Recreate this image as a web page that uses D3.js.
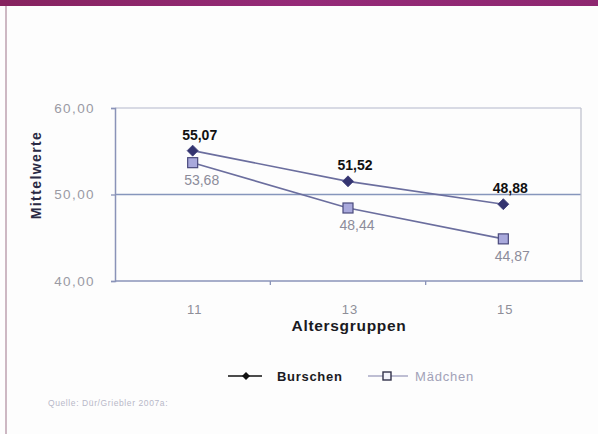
<!DOCTYPE html>
<html>
<head>
<meta charset="utf-8">
<script src="https://cdn.jsdelivr.net/npm/d3@7"></script>
<style>
  html, body { margin: 0; padding: 0; background: #fff; }
  svg { display: block; font-family: "Liberation Sans", Arial, sans-serif; }
</style>
</head>
<body>
<svg id="chart" width="598" height="434"></svg>
<script>
// Mean scores by age group, boys vs. girls
const ageGroups = ["11", "13", "15"];
const burschen = [55.07, 51.52, 48.88];
const maedchen = [53.68, 48.44, 44.87];
const yTicks = [40, 50, 60];
const seriesNames = ["Burschen", "Mädchen"];

const fmt = v => d3.format(".2f")(v).replace(".", ",");

const svg = d3.select("#chart");
const W = 598, H = 434;

// page frame: purple header strip and left rule
svg.append("rect").attr("x", 0).attr("y", 0).attr("width", W).attr("height", H).attr("fill", "#fdfdfd");
const grad = svg.append("defs").append("linearGradient").attr("id", "hdr").attr("x1", 0).attr("x2", 1);
grad.append("stop").attr("offset", 0).attr("stop-color", "#86235f");
grad.append("stop").attr("offset", 0.5).attr("stop-color", "#952a78");
grad.append("stop").attr("offset", 1).attr("stop-color", "#8e2770");
svg.append("rect").attr("x", 0).attr("y", 0).attr("width", W).attr("height", 6).attr("fill", "url(#hdr)");
svg.append("rect").attr("x", 5).attr("y", 6).attr("width", 2).attr("height", H - 6).attr("fill", "#cdb8c3");

const plot = { left: 115, right: 581, top: 108, bottom: 281 };

const x = d3.scaleBand().domain(ageGroups).range([plot.left, plot.right]);
const xc = d => x(d) + x.bandwidth() / 2;
const y = d3.scaleLinear().domain([40, 60]).range([plot.bottom, plot.top]);

const axisColor = "#8a93b8";

// horizontal gridlines
svg.append("g").selectAll("line").data(yTicks.filter(t => t !== 40)).join("line")
  .attr("x1", plot.left).attr("x2", plot.right)
  .attr("y1", d => y(d)).attr("y2", d => y(d))
  .attr("stroke", d => d === 50 ? "#8696bc" : "#b4b8cc").attr("stroke-width", d => d === 50 ? 1.6 : 1.2);

// right border of the plot area
svg.append("line").attr("x1", plot.right).attr("x2", plot.right)
  .attr("y1", plot.top).attr("y2", plot.bottom).attr("stroke", "#c2c4d0").attr("stroke-width", 1.3);

// y axis
const yAxis = svg.append("g").attr("transform", `translate(${plot.left},0)`)
  .call(d3.axisLeft(y).tickValues(yTicks).tickSize(4).tickPadding(16).tickFormat(fmt));
yAxis.select(".domain").attr("stroke", axisColor).attr("stroke-width", 1.5);
yAxis.selectAll(".tick line").attr("stroke", axisColor).attr("stroke-width", 1.3);
yAxis.selectAll(".tick text").attr("fill", "#9a9aa4").attr("font-size", 13.5).attr("letter-spacing", 1.4)
  .attr("font-family", "Liberation Sans, Arial, sans-serif");

// x axis: ticks sit on band boundaries, labels at band centres
const xAxisG = svg.append("g").attr("transform", `translate(0,${plot.bottom})`);
xAxisG.append("line").attr("x1", plot.left).attr("x2", plot.right + 2).attr("y1", 0).attr("y2", 0)
  .attr("stroke", axisColor).attr("stroke-width", 1.6);
const boundaries = ageGroups.slice(1).map(d => x(d));
xAxisG.selectAll("line.tk").data(boundaries).join("line").attr("class", "tk")
  .attr("x1", d => d).attr("x2", d => d).attr("y1", 0).attr("y2", 4)
  .attr("stroke", axisColor).attr("stroke-width", 1.3);
xAxisG.selectAll("text").data(ageGroups).join("text")
  .attr("x", d => xc(d) + 2).attr("y", 33)
  .attr("text-anchor", "middle").attr("fill", "#8e8e98").attr("font-size", 13).attr("letter-spacing", 1)
  .text(d => d);

// axis titles
svg.append("text").attr("x", 349).attr("y", 331).attr("text-anchor", "middle")
  .attr("font-size", 15.5).attr("font-weight", "bold").attr("fill", "#1a1a22").attr("letter-spacing", 0.7)
  .text("Altersgruppen");
svg.append("text").attr("transform", "translate(41,175) rotate(-90)").attr("text-anchor", "middle")
  .attr("font-size", 14).attr("font-weight", "bold").attr("fill", "#2a2a44").attr("letter-spacing", 1.4)
  .text("Mittelwerte");

const lineColor = "#6b6e9e";
const line = d3.line().x((d, i) => xc(ageGroups[i])).y(d => y(d));

// series lines
svg.append("path").datum(maedchen).attr("d", line)
  .attr("fill", "none").attr("stroke", lineColor).attr("stroke-width", 1.6);
svg.append("path").datum(burschen).attr("d", line)
  .attr("fill", "none").attr("stroke", lineColor).attr("stroke-width", 1.6);

// diamond marker with equal width and height
const diamondPath = r => `M0,${-r}L${r},0L0,${r}L${-r},0Z`;

svg.append("g").selectAll("path").data(burschen).join("path")
  .attr("transform", (d, i) => `translate(${xc(ageGroups[i])},${y(d)})`)
  .attr("d", diamondPath(5.5))
  .attr("fill", "#343470").attr("stroke", "#3c3c78").attr("stroke-width", 0.8);
svg.append("g").selectAll("rect").data(maedchen).join("rect")
  .attr("x", (d, i) => xc(ageGroups[i]) - 5).attr("y", d => y(d) - 5)
  .attr("width", 10).attr("height", 10)
  .attr("fill", "#a9a9dc").attr("stroke", "#4a4a7c").attr("stroke-width", 1.2);

// value labels
svg.append("g").selectAll("text").data(burschen).join("text")
  .attr("x", (d, i) => xc(ageGroups[i]) + 7).attr("y", d => y(d) - 11)
  .attr("text-anchor", "middle").attr("font-size", 14).attr("font-weight", "bold").attr("fill", "#111")
  .text(fmt);
svg.append("g").selectAll("text").data(maedchen).join("text")
  .attr("x", (d, i) => xc(ageGroups[i]) + 9).attr("y", d => y(d) + 22)
  .attr("text-anchor", "middle").attr("font-size", 14).attr("fill", "#8c8c9a")
  .text(fmt);

// legend
const lg = svg.append("g").attr("transform", "translate(0,376)");
lg.append("line").attr("x1", 228).attr("x2", 262).attr("y1", 0).attr("y2", 0).attr("stroke", "#111").attr("stroke-width", 1.6);
lg.append("path").attr("transform", "translate(246,0)").attr("d", diamondPath(4)).attr("fill", "#111");
lg.append("text").attr("x", 277).attr("y", 5).attr("font-size", 13).attr("font-weight", "bold").attr("fill", "#1a1a22")
  .attr("letter-spacing", 0.7).text(seriesNames[0]);
lg.append("line").attr("x1", 368).attr("x2", 408).attr("y1", 0).attr("y2", 0).attr("stroke", "#a8a8c4").attr("stroke-width", 1.6);
lg.append("rect").attr("x", 383).attr("y", -4).attr("width", 8).attr("height", 8)
  .attr("fill", "#f4f4fa").attr("stroke", "#33334a").attr("stroke-width", 1.4);
lg.append("text").attr("x", 415).attr("y", 5).attr("font-size", 13).attr("fill", "#a2a2b8")
  .attr("letter-spacing", 0.8).text(seriesNames[1]);

// source note
svg.append("text").attr("x", 48).attr("y", 406).attr("font-size", 8.5).attr("fill", "#b8b8c8")
  .attr("letter-spacing", 0.6).text("Quelle: Dür/Griebler 2007a:");
</script>
</body>
</html>
